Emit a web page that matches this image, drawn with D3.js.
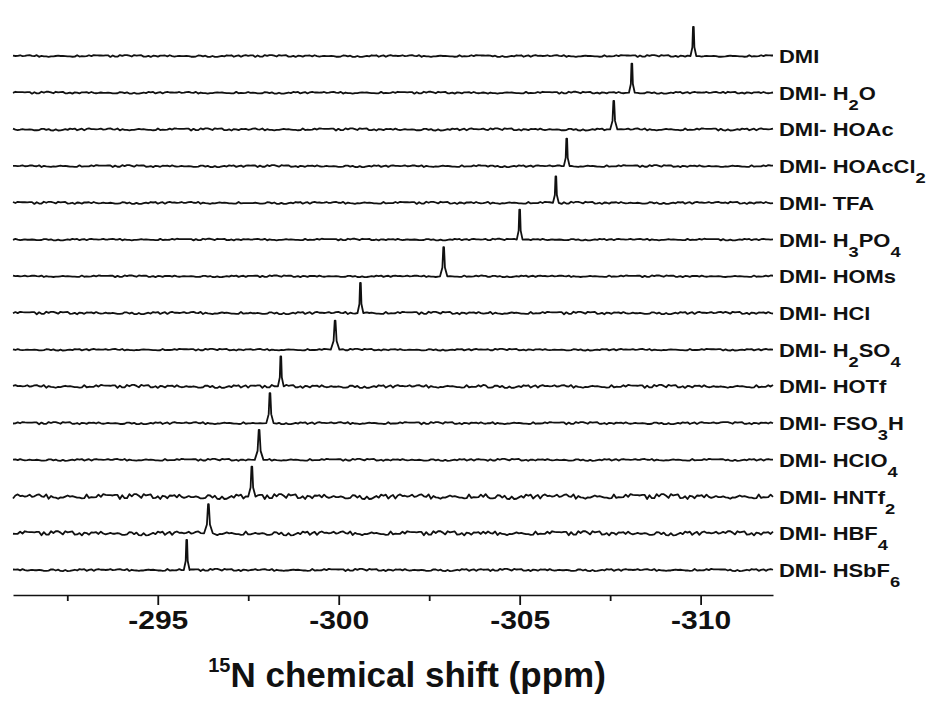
<!DOCTYPE html>
<html>
<head>
<meta charset="utf-8">
<script src="https://cdn.jsdelivr.net/npm/d3@7"></script>
<style>
  body { margin: 0; background: #fff; }
  svg { display: block; font-family: "Liberation Sans", Arial, sans-serif; }
</style>
</head>
<body>
<main></main>
<script>
const width = 937;
const height = 716;

// samples, top to bottom ("_" marks a subscript digit)
const samples = ["DMI", "DMI- H_2O", "DMI- HOAc", "DMI- HOAcCl_2", "DMI- TFA",
                 "DMI- H_3PO_4", "DMI- HOMs", "DMI- HCl", "DMI- H_2SO_4", "DMI- HOTf",
                 "DMI- FSO_3H", "DMI- HClO_4", "DMI- HNTf_2", "DMI- HBF_4", "DMI- HSbF_6"];
// peak position (ppm)
const peakPpm = [-309.8, -308.1, -307.6, -306.3, -306.0,
                 -305.0, -302.9, -300.6, -299.9, -298.4,
                 -298.1, -297.8, -297.6, -296.4, -295.8];
// relative peak heights
const peakHeight = [0.97, 0.97, 0.95, 0.92, 0.88,
                    1.0, 0.97, 1.0, 0.97, 1.0,
                    1.0, 1.0, 1.0, 0.97, 1.0];
// half width of the peak foot (ppm)
const peakWidth = [0.08, 0.08, 0.1, 0.08, 0.08,
                   0.08, 0.1, 0.08, 0.12, 0.08,
                   0.1, 0.12, 0.1, 0.12, 0.08];
// baseline noise level relative to the peak
const noiseLevel = [0.035, 0.035, 0.04, 0.035, 0.04,
                    0.03, 0.03, 0.045, 0.03, 0.055,
                    0.04, 0.035, 0.09, 0.075, 0.04];
// hand typed baseline wiggle, reused on each trace
const noise = [0.3, -0.5, 0.8, -0.2, 0.1, -0.9, 0.4, 0.6, -0.3, -0.7,
               0.2, 0.9, -0.4, 0.0, 0.5, -0.6, 0.7, -0.1, -0.8, 0.3,
               0.6, -0.4, 0.1, -0.2, 0.9, -0.7, 0.2, 0.4, -0.5, -0.1,
               0.8, -0.3, 0.5, -0.9, 0.0, 0.6, -0.2, 0.3, -0.6, 0.7,
               -0.4, 0.1, 0.9, -0.8, 0.2, -0.3, 0.5, 0.4, -0.7, 0.1,
               -0.5, 0.8, -0.1, 0.3, -0.9, 0.6, 0.2, -0.4, 0.7, -0.6,
               0.0, 0.4, -0.2, 0.9, -0.5, 0.1, -0.8, 0.3, 0.5, -0.3,
               0.7, -0.1, -0.6, 0.2, 0.8, -0.7, 0.4, -0.2, 0.6, -0.9,
               0.1, 0.5, -0.4, 0.3, -0.5, 0.9, -0.1, 0.2, -0.7, 0.6,
               -0.3, 0.8, 0.0, -0.6, 0.4, -0.8, 0.7, -0.2, 0.1, -0.4];
const majorTicks = [-295, -300, -305, -310];
const minorTicks = [-292.5, -297.5, -302.5, -307.5];
const ppmRange = [-291, -312];

const svg = d3.select("main")
              .append("svg")
              .attr("width", width)
              .attr("height", height);

const xScale = d3.scaleLinear().domain(ppmRange).range([13, 773]);
const rowScale = d3.scalePoint().domain(samples).range([56, 570]);
const intScale = d3.scaleLinear().domain([0, 1]).range([0, 30]);

const buildTrace = (i) => {
    const pts = [];
    const steps = 320;
    for (let k = 0; k <= steps; k++) {
        const ppm = ppmRange[0] + (ppmRange[1] - ppmRange[0]) * k / steps;
        if (Math.abs(ppm - peakPpm[i]) < peakWidth[i] * 1.5) continue;
        const n = noise[(k * 13 + Math.floor(k / 100) * 7 + i * 29) % noise.length];
        pts.push([ppm, n * noiseLevel[i]]);
    }
    const p = peakPpm[i], w = peakWidth[i], h = peakHeight[i];
    pts.push([p + w, 0], [p + w * 0.35, h * 0.3], [p + 0.01, h],
             [p - 0.01, h], [p - w * 0.35, h * 0.3], [p - w, 0]);
    pts.sort((a, b) => b[0] - a[0]);
    return pts;
};

const traces = svg.append("g").attr("class", "traces");
samples.forEach((name, i) => {
    const y0 = rowScale(name);
    const line = d3.line()
                   .x(d => xScale(d[0]))
                   .y(d => y0 - intScale(d[1]));
    traces.append("path")
          .datum(buildTrace(i))
          .attr("d", line)
          .attr("fill", "none")
          .attr("stroke", "#111")
          .attr("stroke-width", 1.8)
          .attr("stroke-linejoin", "round");
});

// labels on the right, subscripts written as "_d"
const labels = svg.append("g").attr("class", "labels");
samples.forEach((name) => {
    const t = labels.append("text")
                    .attr("transform", `translate(779, ${rowScale(name) + 7}) scale(1.22, 1)`)
                    .attr("font-size", 18)
                    .attr("font-weight", "bold")
                    .attr("fill", "#111");
    const parts = name.split(/(_\d)/).filter(s => s.length);
    let down = false;
    parts.forEach((s) => {
        if (s[0] === "_") {
            t.append("tspan").attr("font-size", 15).attr("dy", 10).text(s[1]);
            down = true;
        } else {
            t.append("tspan").attr("dy", down ? -10 : 0).text(s);
            down = false;
        }
    });
});

// x axis
const axisY = 595;
const axisG = svg.append("g")
                 .attr("transform", `translate(0, ${axisY})`)
                 .call(d3.axisBottom(xScale)
                         .tickValues(majorTicks)
                         .tickSize(10)
                         .tickSizeOuter(0)
                         .tickPadding(6)
                         .tickFormat(d => String(d)));
axisG.select(".domain").attr("stroke", "#111").attr("stroke-width", 1.6);
axisG.selectAll(".tick line").attr("stroke", "#111").attr("stroke-width", 1.8);
axisG.selectAll(".tick text")
     .attr("font-size", 25)
     .attr("font-weight", "bold")
     .attr("fill", "#111")
     .attr("font-family", "Liberation Sans, Arial, sans-serif")
     .attr("transform", "scale(1.2, 1)");

const minorG = svg.append("g")
                  .attr("transform", `translate(0, ${axisY})`)
                  .call(d3.axisBottom(xScale)
                          .tickValues(minorTicks)
                          .tickSize(6)
                          .tickFormat(""));
minorG.select(".domain").remove();
minorG.selectAll(".tick line").attr("stroke", "#111").attr("stroke-width", 1.8);

// axis title
const title = svg.append("text")
                 .attr("x", 407)
                 .attr("y", 687)
                 .attr("text-anchor", "middle")
                 .attr("font-size", 35)
                 .attr("font-weight", "bold")
                 .attr("fill", "#111");
title.append("tspan").attr("font-size", 20).attr("dy", -15).text("15");
title.append("tspan").attr("dy", 15).text("N chemical shift (ppm)");
</script>
</body>
</html>
